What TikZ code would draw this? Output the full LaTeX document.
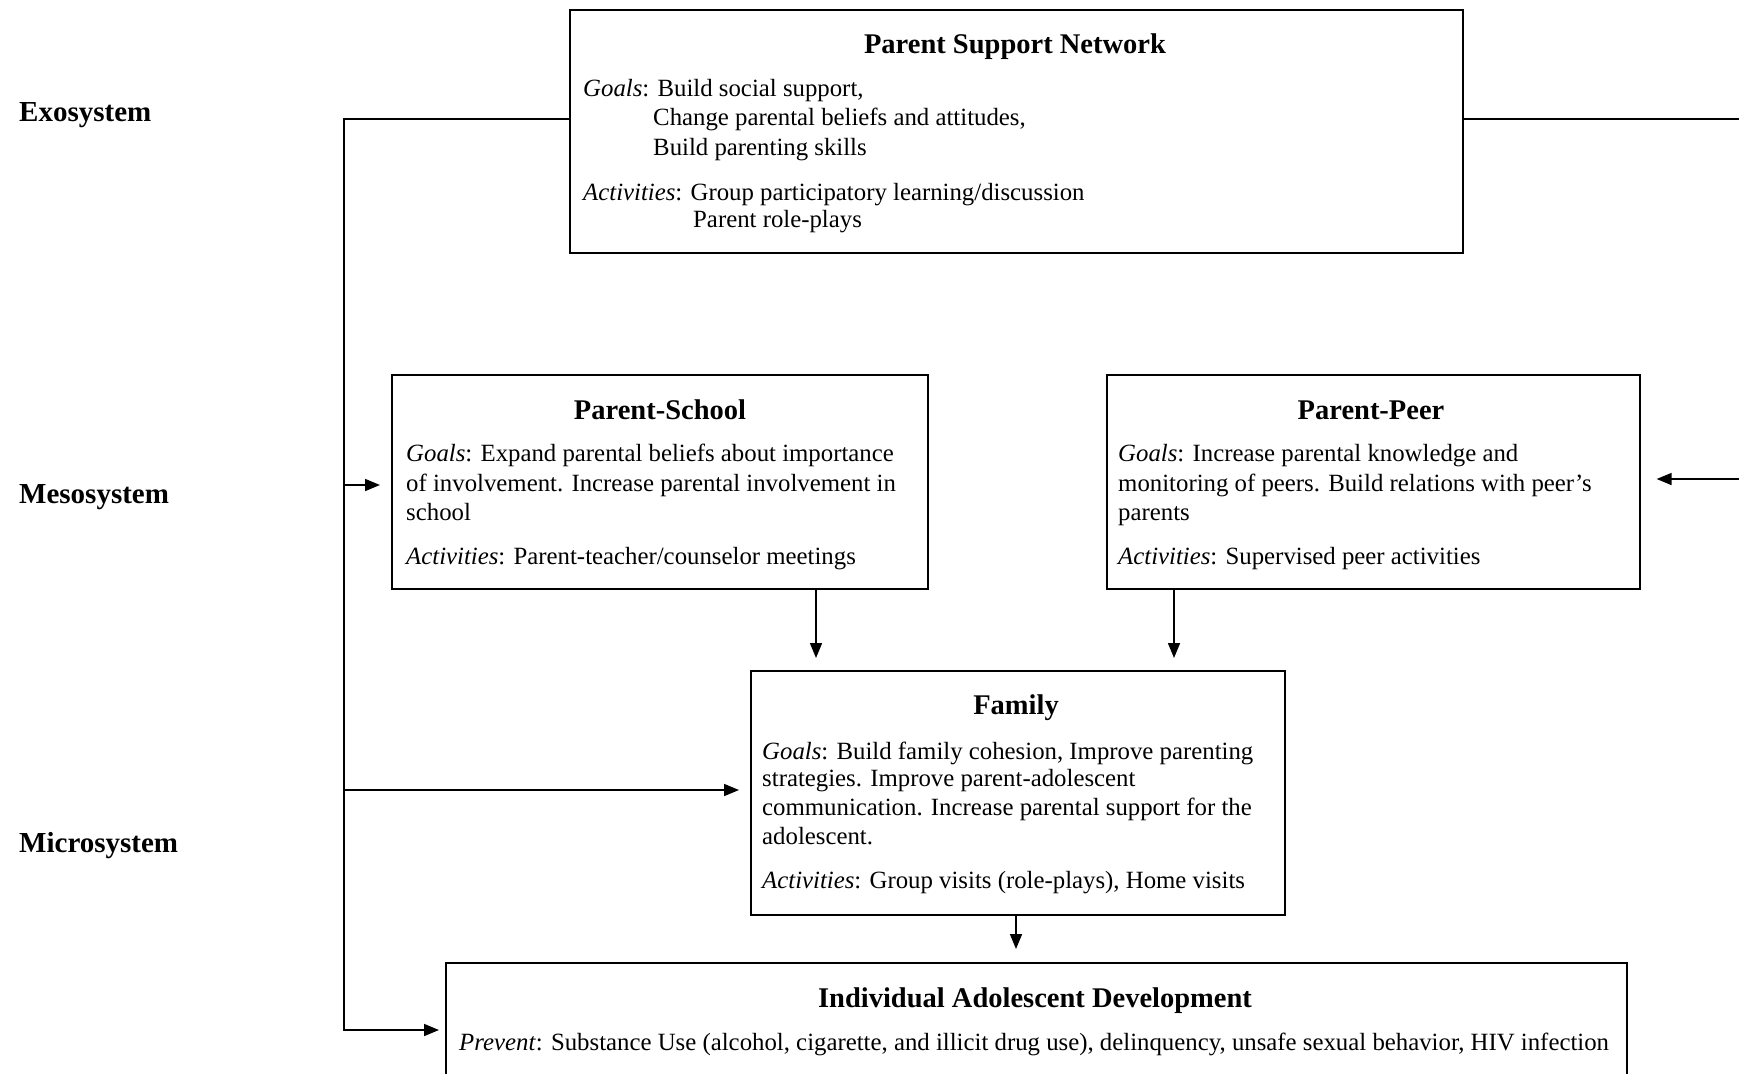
\documentclass[tikz,border=0pt]{standalone}
\usepackage{fontspec}
\setmainfont{Liberation Serif}
\usetikzlibrary{arrows.meta}
\tikzset{
  box/.style={draw, line width=1.6pt, rectangle, inner sep=0pt, anchor=north west},
  body/.style={inner sep=0pt, anchor=base west, font=\fontsize{24.8}{29}\selectfont},
  ttl/.style={inner sep=0pt, anchor=base, font=\fontsize{28.5}{32}\selectfont\bfseries},
  lvl/.style={inner sep=0pt, anchor=base west, font=\fontsize{29}{32}\selectfont\bfseries},
  conn/.style={line width=1.6pt},
  arr/.style={line width=1.6pt, -{Triangle[length=15pt,width=12pt]}}
}
\begin{document}
\begin{tikzpicture}[x=1pt,y=-1pt]
\useasboundingbox (0,0) rectangle (1739,1073);
\clip (0,0) rectangle (1739,1073);
% level labels
\node[lvl] (exo) at (19,121) {Exosystem};
\node[lvl] (meso) at (19,503) {Mesosystem};
\node[lvl] (micro) at (19,852) {Microsystem};
% boxes
\node[box, minimum width=893pt, minimum height=243pt] (psn) at (569,9) {};
\node[box, minimum width=536pt, minimum height=214pt] (ps) at (391,374) {};
\node[box, minimum width=533pt, minimum height=214pt] (pp) at (1106,374) {};
\node[box, minimum width=534pt, minimum height=244pt] (fam) at (750,670) {};
\node[box, minimum width=1181pt, minimum height=160pt] (ind) at (445,962) {};
% Parent Support Network text
\node[ttl] (psnT) at (1015,53) {Parent Support Network};
\node[body] (psn1) at (583,96) {\textit{Goals}: Build social support,};
\node[body] (psn2) at (653,125) {Change parental beliefs and attitudes,};
\node[body] (psn3) at (653,155) {Build parenting skills};
\node[body] (psn4) at (583,200) {\textit{Activities}: Group participatory learning/discussion};
\node[body] (psn5) at (693,227) {Parent role-plays};
% Parent-School text
\node[ttl] (psT) at (660,419) {Parent-School};
\node[body] (ps1) at (406,461) {\textit{Goals}: Expand parental beliefs about importance};
\node[body] (ps2) at (406,491) {of involvement. Increase parental involvement in};
\node[body] (ps3) at (406,520) {school};
\node[body] (ps4) at (406,564) {\textit{Activities}: Parent-teacher/counselor meetings};
% Parent-Peer text
\node[ttl] (ppT) at (1371,419) {Parent-Peer};
\node[body] (pp1) at (1118,461) {\textit{Goals}: Increase parental knowledge and};
\node[body] (pp2) at (1118,491) {monitoring of peers. Build relations with peer's};
\node[body] (pp3) at (1118,520) {parents};
\node[body] (pp4) at (1118,564) {\textit{Activities}: Supervised peer activities};
% Family text
\node[ttl] (famT) at (1016,714) {Family};
\node[body] (fam1) at (762,759) {\textit{Goals}: Build family cohesion, Improve parenting};
\node[body] (fam2) at (762,786) {strategies. Improve parent-adolescent};
\node[body] (fam3) at (762,815) {communication. Increase parental support for the};
\node[body] (fam4) at (762,844) {adolescent.};
\node[body] (fam5) at (762,888) {\textit{Activities}: Group visits (role-plays), Home visits};
% Individual text
\node[ttl] (indT) at (1035,1007) {Individual Adolescent Development};
\node[body] (ind1) at (459,1050) {\textit{Prevent}: Substance Use (alcohol, cigarette, and illicit drug use), delinquency, unsafe sexual behavior, HIV infection};
% connector coordinates
\coordinate (lt) at (344,119);
\coordinate (lb) at (344,1031);
\coordinate (rt) at (1745,119);
\coordinate (rp) at (1745,479);
% connectors
\draw[conn] (psn.west |- lt) -- (lt) -- (lb);
\draw[arr] (344,485) -- ([xshift=-11pt]ps.west |- 0,485);
\draw[arr] (344,790) -- ([xshift=-11pt]fam.west |- 0,790);
\draw[arr] (344,1030) -- ([xshift=-6pt]ind.west |- 0,1030);
\draw[conn] (psn.east |- rt) -- (rt);
\draw[arr] (rp) -- ([xshift=16pt]pp.east |- rp);
\draw[arr] (ps.south -| 816,0) -- ([yshift=12pt]fam.north -| 816,0);
\draw[arr] (pp.south -| 1174,0) -- ([yshift=12pt]fam.north -| 1174,0);
\draw[arr] (fam.south -| 1016,0) -- ([yshift=13pt]ind.north -| 1016,0);
\end{tikzpicture}
\end{document}
